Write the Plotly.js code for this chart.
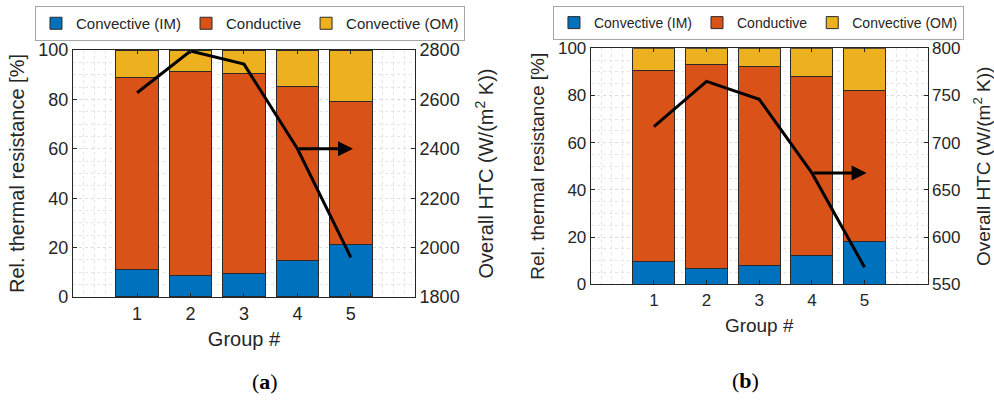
<!DOCTYPE html>
<html>
<head>
<meta charset="utf-8">
<script src="https://cdn.plot.ly/plotly-3.0.1.min.js"></script>
<style>html,body{margin:0;padding:0;background:#fff;}#chart{width:994px;height:401px;}</style>
</head>
<body>
<div id="chart"></div>
<script>
const groups = [1, 2, 3, 4, 5];
const tickLabels = ['1', '2', '3', '4', '5'];
const seriesNames = ['Convective (IM)', 'Conductive', 'Convective (OM)'];

// Panel (a)
const imA = [11.2, 8.7, 9.5, 14.6, 21.2];
const condA = [77.6, 82.4, 81.0, 70.8, 57.8];
const omA = [11.2, 8.9, 9.5, 14.6, 21.0];
const htcA = [2627, 2796, 2743, 2400, 1960];

// Panel (b)
const imB = [9.6, 6.6, 7.9, 12.3, 18.1];
const condB = [81.1, 86.7, 84.3, 75.7, 64.1];
const omB = [9.3, 6.7, 7.8, 12.0, 17.8];
const htcB = [717, 765, 746, 668, 568];

const colors = ['#0072BD', '#D95319', '#EDB120'];
const edge = {color: '#2a2a2a', width: 1};
const txt = '#262626';
const FONT = 'Liberation Sans, Arial, sans-serif';

function bars(vals, i, xa, ya, leg) {
  return {type: 'bar', x: groups, y: vals, name: seriesNames[i], xaxis: xa, yaxis: ya,
    legend: leg, width: 0.8, marker: {color: colors[i], line: edge}, hoverinfo: 'y+name'};
}
const traces = [
  bars(imA, 0, 'x', 'y', 'legend'), bars(condA, 1, 'x', 'y', 'legend'), bars(omA, 2, 'x', 'y', 'legend'),
  {type: 'scatter', mode: 'lines', x: groups, y: htcA, xaxis: 'x', yaxis: 'y2', showlegend: false,
    line: {color: '#000', width: 3}, name: 'HTC'},
  bars(imB, 0, 'x2', 'y3', 'legend2'), bars(condB, 1, 'x2', 'y3', 'legend2'), bars(omB, 2, 'x2', 'y3', 'legend2'),
  {type: 'scatter', mode: 'lines', x: groups, y: htcB, xaxis: 'x2', yaxis: 'y4', showlegend: false,
    line: {color: '#000', width: 3}, name: 'HTC'}
];

function xAxis(dom, anchor, fs, so) {
  return {domain: dom, anchor: anchor, range: [-0.2, 6.2], tickvals: groups, ticktext: tickLabels,
    ticks: 'inside', ticklen: 4, tickcolor: txt, showline: true, linecolor: txt, linewidth: 1, mirror: 'ticks',
    showgrid: true, gridcolor: '#dcdcdc', griddash: 'dot', zeroline: false,
    minor: {dtick: 0.2, tick0: 0, showgrid: true, gridcolor: '#e6e6e6', griddash: 'dot', ticks: ''},
    tickfont: {family: FONT, size: fs, color: txt},
    title: {text: 'Group #', font: {family: FONT, size: fs + 2, color: txt}, standoff: so}};
}
function yLeft(dom, anchor, fs) {
  return {domain: dom, anchor: anchor, range: [0, 100], dtick: 20, ticks: 'inside', ticklen: 4, tickcolor: txt,
    showline: true, linecolor: txt, linewidth: 1, zeroline: false,
    showgrid: true, gridcolor: '#dcdcdc', griddash: 'dot',
    minor: {dtick: 5, showgrid: true, gridcolor: '#e6e6e6', griddash: 'dot', ticks: ''},
    tickfont: {family: FONT, size: fs, color: txt},
    title: {text: 'Rel. thermal resistance [%]', font: {family: FONT, size: fs + 2, color: txt}, standoff: 8}};
}
function yRight(overlay, anchor, range, dtick, fs) {
  return {overlaying: overlay, anchor: anchor, side: 'right', range: range, dtick: dtick,
    ticks: 'inside', ticklen: 4, tickcolor: txt, showline: true, linecolor: txt, linewidth: 1,
    showgrid: false, zeroline: false, tickfont: {family: FONT, size: fs, color: txt},
    title: {text: 'Overall HTC (W/(m<sup>2</sup> K))', font: {family: FONT, size: fs + 2, color: txt}, standoff: 20}};
}

const layout = {
  width: 994, height: 401, margin: {l: 0, r: 0, t: 0, b: 0},
  paper_bgcolor: '#fff', plot_bgcolor: '#fff', barmode: 'stack', bargap: 0.2,
  font: {family: FONT, color: txt},
  xaxis: xAxis([0.0734, 0.4175], 'y', 18, 9),
  yaxis: yLeft([0.2594, 0.8753], 'x', 18),
  yaxis2: yRight('y', 'x', [1800, 2800], 200, 18),
  xaxis2: xAxis([0.5943, 0.9333], 'y3', 17, 9),
  yaxis3: yLeft([0.291, 0.8795], 'x2', 17),
  yaxis4: yRight('y3', 'x2', [550, 800], 50, 17),
  legend: {orientation: 'h', x: 0.0352, y: 0.985, xanchor: 'left', yanchor: 'top',
    bordercolor: '#a6a6a6', borderwidth: 1, bgcolor: '#fff', itemwidth: 30,
    font: {family: FONT, size: 15, color: txt}, traceorder: 'normal', tracegroupgap: 0},
  legend2: {orientation: 'h', x: 0.5563, y: 0.985, xanchor: 'left', yanchor: 'top',
    bordercolor: '#a6a6a6', borderwidth: 1, bgcolor: '#fff', itemwidth: 30,
    font: {family: FONT, size: 14, color: txt}, traceorder: 'normal', tracegroupgap: 0},
  annotations: [
    {x: 5.04, y: 2400, xref: 'x', yref: 'y2', ax: 4.0, ay: 2400, axref: 'x', ayref: 'y2',
      showarrow: true, arrowhead: 2, arrowsize: 1.0, arrowwidth: 3, arrowcolor: '#000', text: ''},
    {x: 5.04, y: 668, xref: 'x2', yref: 'y4', ax: 4.0, ay: 668, axref: 'x2', ayref: 'y4',
      showarrow: true, arrowhead: 2, arrowsize: 1.0, arrowwidth: 3, arrowcolor: '#000', text: ''},
    {x: 250 / 994, y: 1 - 396 / 401, xref: 'paper', yref: 'paper', showarrow: false,
      text: '(<b>a</b>)', font: {family: 'Liberation Serif, Times New Roman, serif', size: 22, color: '#000'}},
    {x: 761 / 994, y: 1 - 395 / 401, xref: 'paper', yref: 'paper', showarrow: false,
      text: '(<b>b</b>)', font: {family: 'Liberation Serif, Times New Roman, serif', size: 22, color: '#000'}}
  ]
};

Plotly.newPlot('chart', traces, layout, {displayModeBar: false, staticPlot: true});
</script>
</body>
</html>
